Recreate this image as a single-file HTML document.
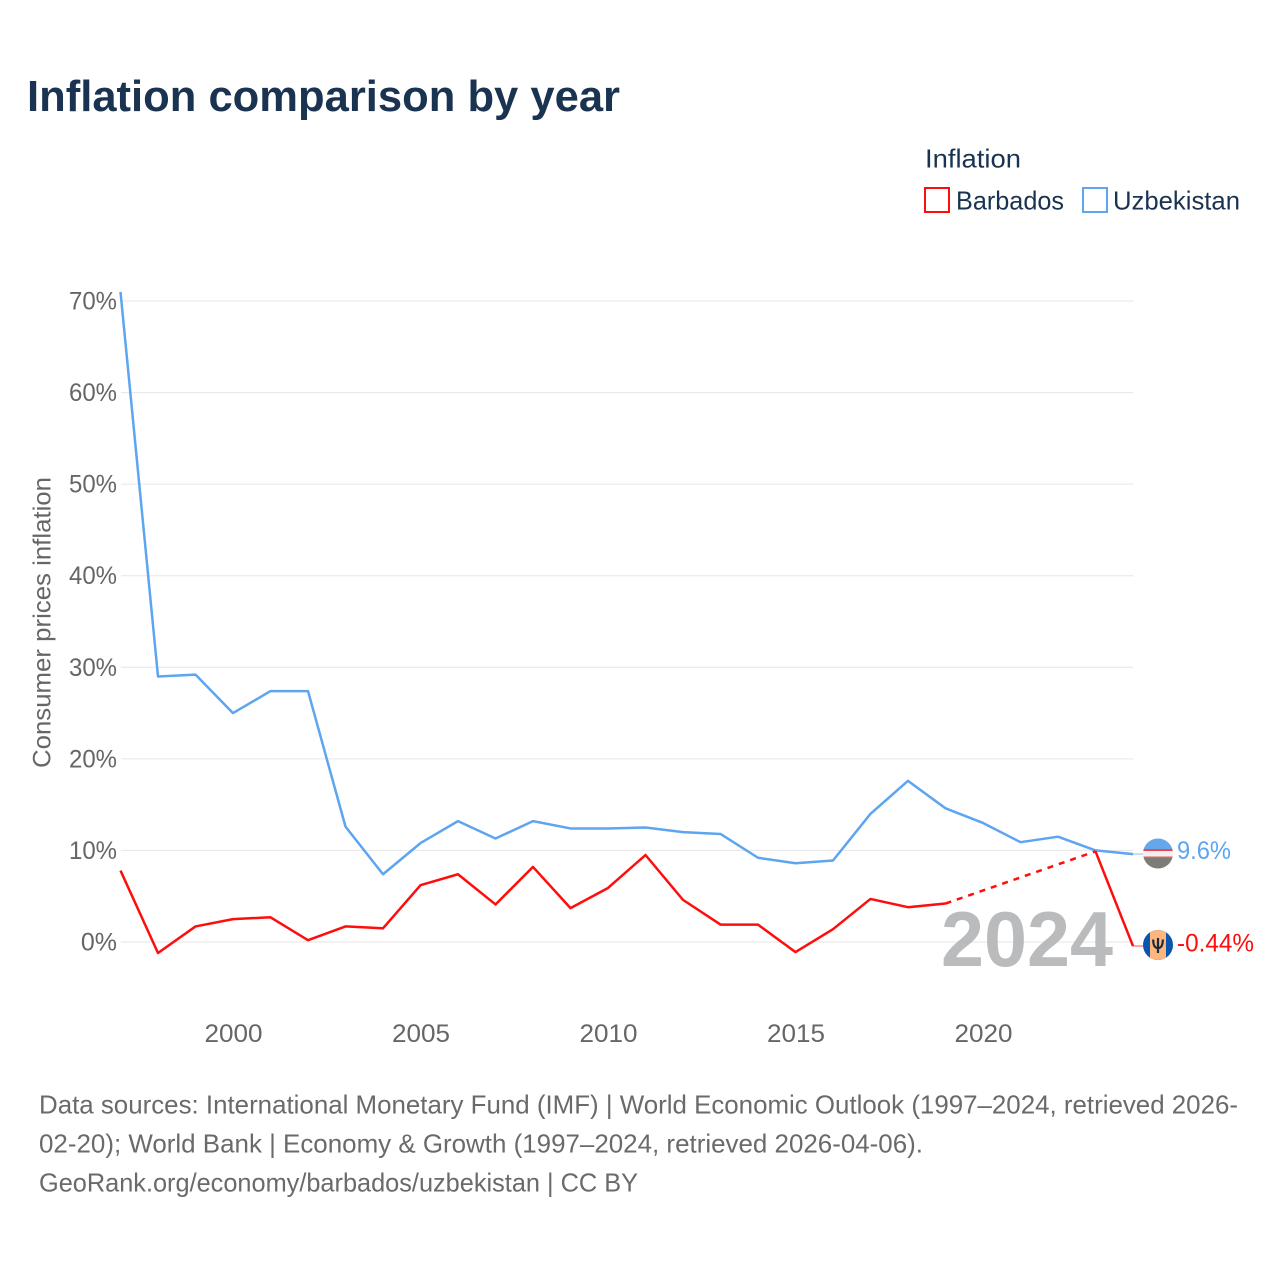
<!DOCTYPE html>
<html lang="en">
<head>
<meta charset="utf-8">
<title>Inflation comparison by year</title>
<style>
html,body{margin:0;padding:0;background:#fff;}
svg{display:block;font-family:"Liberation Sans",sans-serif;}
</style>
</head>
<body>
<svg id="chart" xmlns="http://www.w3.org/2000/svg" width="1280" height="1280" viewBox="0 0 1280 1280">
  <rect width="1280" height="1280" fill="#fff"/>
  <text x="27" y="111" font-size="44" font-weight="700" fill="#1a3350" textLength="593" lengthAdjust="spacingAndGlyphs">Inflation comparison by year</text>
  <g>
    <text x="925" y="167.500" font-size="26" fill="#1a3350" textLength="96" lengthAdjust="spacingAndGlyphs">Inflation</text>
    <rect x="925" y="188" width="24" height="24" fill="none" stroke="#ff0d0d" stroke-width="2"/>
    <text x="956" y="209.500" font-size="26" fill="#1a3350" textLength="108" lengthAdjust="spacingAndGlyphs">Barbados</text>
    <rect x="1083" y="188" width="24" height="24" fill="none" stroke="#5da5f0" stroke-width="2"/>
    <text x="1113" y="209.500" font-size="26" fill="#1a3350" textLength="127" lengthAdjust="spacingAndGlyphs">Uzbekistan</text>
  </g>
  <text transform="translate(50.500,768) rotate(-90)" font-size="25" fill="#666" textLength="291" lengthAdjust="spacingAndGlyphs">Consumer prices inflation</text>
  <g id="grid"></g>
  <g id="yticks"></g>
  <g id="xticks"></g>
  <text x="941" y="966" font-size="78" font-weight="700" fill="#b4b5b6" fill-opacity="0.92" textLength="172" lengthAdjust="spacingAndGlyphs">2024</text>
  <g id="series"></g>
  <g>
    <clipPath id="clipUz"><circle cx="1158" cy="853.500" r="15"/></clipPath>
    <g clip-path="url(#clipUz)">
      <rect x="1143" y="838" width="30" height="12" fill="#65a7ea"/>
      <rect x="1143" y="849" width="30" height="2" fill="#f0444e"/>
      <rect x="1143" y="851" width="30" height="6" fill="#f1f1f1"/>
      <rect x="1143" y="856.500" width="30" height="1.500" fill="#ee5a60"/>
      <rect x="1143" y="858" width="30" height="11" fill="#7b7d77"/>
    </g>
  </g>
  <g>
    <clipPath id="clipBb"><circle cx="1158" cy="945" r="15"/></clipPath>
    <g clip-path="url(#clipBb)">
      <rect x="1143" y="930" width="30" height="31" fill="#0b56ad"/>
      <rect x="1150" y="930" width="16" height="31" fill="#fdb67e"/>
    </g>
    <path d="M1158 938V953M1153.200 939.500C1153.200 946 1155 948 1158 948C1161 948 1162.800 946 1162.800 939.500" fill="none" stroke="#1c2a3a" stroke-width="2.200"/>
  </g>
  <text x="1177" y="859" font-size="25" fill="#5da5f0" textLength="54" lengthAdjust="spacingAndGlyphs">9.6%</text>
  <text x="1177" y="951.500" font-size="25" fill="#ff0d0d" textLength="77" lengthAdjust="spacingAndGlyphs">-0.44%</text>
  <g font-size="26" fill="#6a6a6a">
    <text x="39" y="1113.500" textLength="1199" lengthAdjust="spacingAndGlyphs">Data sources: International Monetary Fund (IMF) | World Economic Outlook (1997–2024, retrieved 2026-</text>
    <text x="39" y="1152.500" textLength="884" lengthAdjust="spacingAndGlyphs">02-20); World Bank | Economy &amp; Growth (1997–2024, retrieved 2026-04-06).</text>
    <text x="39" y="1191.500" textLength="599" lengthAdjust="spacingAndGlyphs">GeoRank.org/economy/barbados/uzbekistan | CC BY</text>
  </g>
</svg>
<script>
const years = [1997,1998,1999,2000,2001,2002,2003,2004,2005,2006,2007,2008,2009,2010,2011,2012,2013,2014,2015,2016,2017,2018,2019,2020,2021,2022,2023,2024];
const uzbekistan = [71,29,29.2,25,27.4,27.4,12.6,7.4,10.8,13.2,11.3,13.2,12.4,12.4,12.5,12,11.8,9.2,8.6,8.9,14,17.6,14.6,13,10.9,11.5,10,9.6];
const barbados = [7.8,-1.2,1.7,2.5,2.7,0.2,1.7,1.5,6.2,7.4,4.1,8.2,3.7,5.9,9.5,4.6,1.9,1.9,-1.1,1.4,4.7,3.8,4.2,null,null,null,9.9,-0.44];
const yTickValues = [0,10,20,30,40,50,60,70];
const xTickValues = [2000,2005,2010,2015,2020];

const NS = 'http://www.w3.org/2000/svg';
const xScale = function (year) { return 120.500 + (year - 1997) * 37.5; };
const yScale = function (value) { return 942 - value * 9.157; };

function make(tag, parent, attrs) {
  const el = document.createElementNS(NS, tag);
  Object.keys(attrs).forEach(function (k) { el.setAttribute(k, attrs[k]); });
  parent.appendChild(el);
  return el;
}

const grid = document.getElementById('grid');
const yticks = document.getElementById('yticks');
yTickValues.forEach(function (v) {
  const line = make('line', grid, {x1: 121, x2: 1133.5, y1: yScale(v), y2: yScale(v), stroke: '#e6e6e6', 'stroke-width': 1});
  
  
  const label = make('text', yticks, {x: 117, y: yScale(v) + 8.5, 'text-anchor': 'end', 'font-size': 25, fill: '#666'});
  
  
  label.textContent = v + '%';
  if (v > 0) {
    label.setAttribute('textLength', 48);
    label.setAttribute('lengthAdjust', 'spacingAndGlyphs');
  }
});

const xticks = document.getElementById('xticks');
xTickValues.forEach(function (y) {
  const label = make('text', xticks, {x: xScale(y) + 0.5, y: 1042, 'text-anchor': 'middle', 'font-size': 25, fill: '#666', textLength: 58, lengthAdjust: 'spacingAndGlyphs'});
  
  
  label.textContent = y;
});

function drawSeries(values, colour, name) {
  const group = document.getElementById('series');
  let segment = [];
  let lastPoint = null;
  function flush() {
    if (segment.length > 1) {
      const p = make('polyline', group, {points: segment.join(' '), fill: 'none', stroke: colour, 'stroke-width': 2.5, 'stroke-linejoin': 'round'});
      
      
    }
    segment = [];
  }
  values.forEach(function (v, i) {
    if (v === null) { flush(); return; }
    const pt = [xScale(years[i]), yScale(v)];
    if (lastPoint && lastPoint.i !== i - 1) {
      const d = make('line', group, {x1: lastPoint.pt[0], y1: lastPoint.pt[1], x2: pt[0], y2: pt[1], stroke: colour, 'stroke-width': 2.5, 'stroke-dasharray': '6 6'});
      
      
    }
    segment.push(pt.join(','));
    lastPoint = {i: i, pt: pt};
  });
  flush();
  const end = make('line', group, {x1: lastPoint.pt[0], y1: lastPoint.pt[1], x2: 1143, y2: lastPoint.pt[1], stroke: colour, 'stroke-width': 1.2, 'stroke-opacity': 0.6});
  
  
}

drawSeries(uzbekistan, '#5da5f0', 'uzbekistan');
drawSeries(barbados, '#ff0d0d', 'barbados');
</script>
</body>
</html>
